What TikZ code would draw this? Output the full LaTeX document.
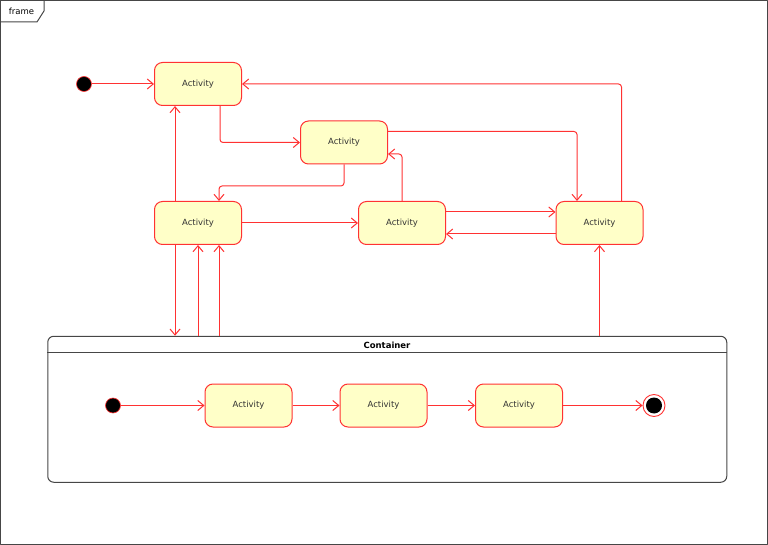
\documentclass[tikz,border=0pt]{standalone}
\usepackage{fontspec}
\setmainfont{DejaVu Sans}
\usetikzlibrary{arrows.meta}
\definecolor{actred}{RGB}{255,50,50}
\definecolor{actfill}{RGB}{255,255,200}
\definecolor{framegray}{RGB}{70,70,70}
\begin{document}
\begin{tikzpicture}[x=1pt,y=-1pt,font=\fontsize{8.5}{10}\selectfont,line join=round,
	act/.style={draw=actred,fill=actfill,rounded corners=8pt,line width=1pt,minimum width=87pt,minimum height=43pt,text=black!80},
	flow/.style={draw=actred,line width=1pt,rounded corners=3pt,-{Straight Barb[length=6pt,width=10pt]}},
	startdot/.style={circle,fill=black,draw=actred,line width=0.6pt,minimum size=15pt,inner sep=0pt},
	endring/.style={circle,draw=actred,fill=white,line width=0.9pt,minimum size=22pt,inner sep=0pt}]
	\useasboundingbox (0,0) rectangle (768,545);
	% frame
	\draw[framegray,line width=1pt] (0.5,0.5) rectangle (767.5,544.5);
	\draw[framegray,line width=1pt] (0.5,22) -- (37,22) -- (44,11) -- (44,0.5);
	\node (framelbl) at (21.5,11) {frame};
	% container
	\node[draw=framegray,rounded corners=6pt,line width=1pt,minimum width=679pt,minimum height=146pt] (cont) at (387.25,409.25) {};
	\draw[framegray,line width=1pt] ([yshift=-17pt]cont.north west) -- ([yshift=-17pt]cont.north east);
	\node[font=\fontsize{8.5}{10}\selectfont\bfseries] (contlbl) at (387,345) {Container};
	% activities
	\node[startdot] (init) at (84,84) {};
	\foreach \n/\x/\y in {a1/198/84, a2/344/142.5, a3/198/223, a4/402/223, a5/599.5/223,
		b1/248.5/405.5, b2/383.5/405.5, b3/519/405.5}
	\node[act] (\n) at (\x,\y) {Activity};
	\node[startdot] (binit) at (113,405.5) {};
	\node[endring] (bfin) at (654,405.5) {};
	\fill[black] (bfin) circle (8pt);
	% top level flows
	\draw[flow] (init) -- (a1);
	\draw[flow] ([xshift=22pt]a1.south) |- (a2.west);
	\draw[flow] (a2.south) |- ([xshift=21pt,yshift=15pt]a3.north) -- ([xshift=21pt]a3.north);
	\draw[flow] ([xshift=-23pt]a3.north) -- ([xshift=-23pt]a1.south);
	\draw[flow] (a3) -- (a4);
	\draw[flow] (a4.north) |- ([yshift=-11.5pt]a2.east);
	\draw[flow] ([yshift=11pt]a2.east) -| ([xshift=-22.5pt]a5.north);
	\draw[flow] ([xshift=22pt]a5.north) |- (a1.east);
	\draw[flow] ([yshift=11pt]a4.east) -- ([yshift=11pt]a5.west);
	\draw[flow] ([yshift=-11pt]a5.west) -- ([yshift=-11pt]a4.east);
	% flows to and from the container
	\draw[flow] ([xshift=-23pt]a3.south) -- ([xshift=-23pt]a3.south |- cont.north);
	\draw[flow] (a3.south |- cont.north) -- (a3.south);
	\draw[flow] ([xshift=21pt]a3.south |- cont.north) -- ([xshift=21pt]a3.south);
	\draw[flow] (a5.south |- cont.north) -- (a5.south);
	% inside the container
	\draw[flow] (binit) -- (b1);
	\draw[flow] (b1) -- (b2);
	\draw[flow] (b2) -- (b3);
	\draw[flow] (b3) -- (bfin);
\end{tikzpicture}
\end{document}
